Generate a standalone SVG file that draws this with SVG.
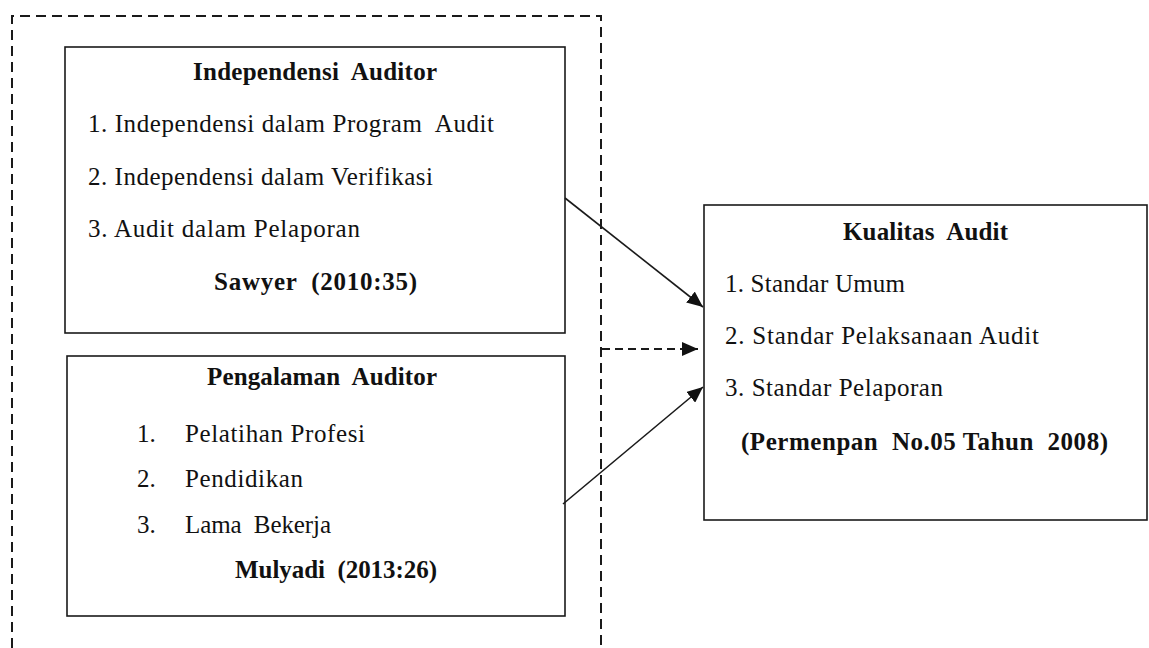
<svg xmlns="http://www.w3.org/2000/svg" width="1149" height="648" viewBox="0 0 1149 648">
  <style>
    .box { fill: #ffffff; stroke: #1a1a1a; stroke-width: 1.6; }
    .frame { fill: none; stroke: #1a1a1a; stroke-width: 2; stroke-dasharray: 10 6; }
    .link { fill: none; stroke: #1a1a1a; stroke-width: 1.6; }
    .dash { stroke-dasharray: 8 5; stroke-width: 2; }
    text { font-family: "Liberation Serif", "Times New Roman", serif; font-size: 25px; fill: #111111; white-space: pre; }
    .h { font-weight: bold; }
  </style>
  <defs>
    <marker id="arrow" markerUnits="userSpaceOnUse" markerWidth="18" markerHeight="14" refX="16" refY="7" orient="auto">
      <path d="M0,0 L16,7 L0,14 Z" fill="#111111"/>
    </marker>
  </defs>

  <rect width="1149" height="648" fill="#ffffff"/>

  <!-- grouping frame around the two independent variables -->
  <path class="frame" d="M12,648 V16 H601 V648"/>

  <g id="independensi">
    <rect class="box" x="65" y="47" width="500" height="286"/>
    <text class="h" x="193" y="80" textLength="244" lengthAdjust="spacing">Independensi  Auditor</text>
    <text x="88" y="132" textLength="406" lengthAdjust="spacing">1. Independensi dalam Program  Audit</text>
    <text x="88" y="185" textLength="345" lengthAdjust="spacing">2. Independensi dalam Verifikasi</text>
    <text x="88" y="237" textLength="272" lengthAdjust="spacing">3. Audit dalam Pelaporan</text>
    <text class="h" x="214" y="290" textLength="203" lengthAdjust="spacing">Sawyer  (2010:35)</text>
  </g>

  <g id="pengalaman">
    <rect class="box" x="67" y="356" width="498" height="260"/>
    <text class="h" x="207" y="385" textLength="230" lengthAdjust="spacing">Pengalaman  Auditor</text>
    <text x="137" y="442">1.</text>
    <text x="185" y="442" textLength="180" lengthAdjust="spacing">Pelatihan Profesi</text>
    <text x="137" y="487">2.</text>
    <text x="185" y="487" textLength="118" lengthAdjust="spacing">Pendidikan</text>
    <text x="137" y="533">3.</text>
    <text x="185" y="533" textLength="146" lengthAdjust="spacing">Lama  Bekerja</text>
    <text class="h" x="235" y="578" textLength="202" lengthAdjust="spacing">Mulyadi  (2013:26)</text>
  </g>

  <g id="kualitas">
    <rect class="box" x="704" y="205" width="443" height="315"/>
    <text class="h" x="843" y="240" textLength="165" lengthAdjust="spacing">Kualitas  Audit</text>
    <text x="725" y="292" textLength="180" lengthAdjust="spacing">1. Standar Umum</text>
    <text x="725" y="344" textLength="314" lengthAdjust="spacing">2. Standar Pelaksanaan Audit</text>
    <text x="725" y="396" textLength="218" lengthAdjust="spacing">3. Standar Pelaporan</text>
    <text class="h" x="741" y="450" textLength="367" lengthAdjust="spacing">(Permenpan  No.05 Tahun  2008)</text>
  </g>

  <g id="connectors">
    <line class="link" x1="565" y1="198" x2="703" y2="307" marker-end="url(#arrow)"/>
    <line class="link dash" x1="602" y1="349" x2="698" y2="349" marker-end="url(#arrow)"/>
    <line class="link" x1="563" y1="504" x2="703" y2="387" marker-end="url(#arrow)"/>
  </g>
</svg>
